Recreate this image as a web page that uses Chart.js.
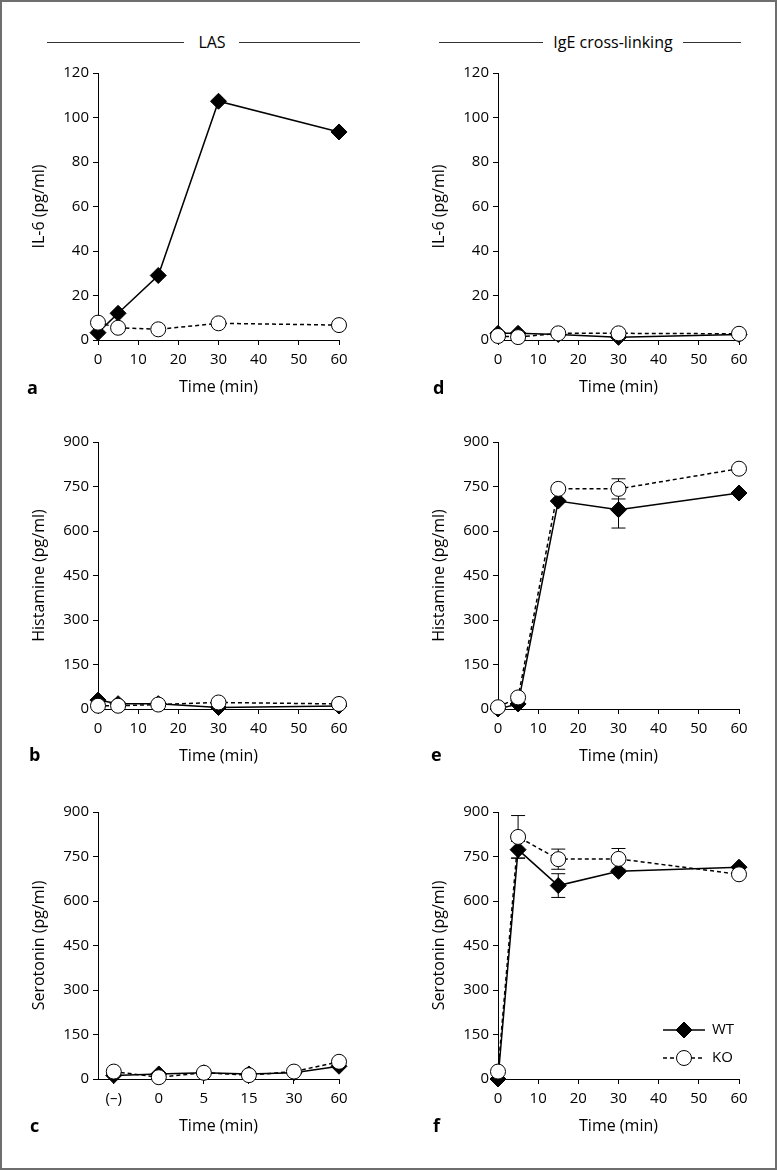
<!DOCTYPE html>
<html>
<head>
<meta charset="utf-8">
<script src="https://cdn.jsdelivr.net/npm/chart.js@4.4.1/dist/chart.umd.min.js"></script>
<style>
  body { margin: 0; background: #fff; font-family: "Open Sans", sans-serif; }
  #page { position: relative; width: 777px; height: 1170px; overflow: hidden; }
  #frame { position: absolute; left: 0; top: 0; width: 777px; height: 1170px; box-sizing: border-box; border: 2px solid #6e6e6e; }
  canvas { position: absolute; }
  .rule { position: absolute; height: 0; border-top: 1.5px solid #333; }
  .head { position: absolute; font-size: 16px; line-height: 18px; transform: translateX(-50%); white-space: nowrap; }
  .tag { position: absolute; font-size: 18px; font-weight: bold; line-height: 20px; transform: translateY(-50%); }
</style>
</head>
<body>
<div id="page">
  <div id="frame"></div>

  <div class="rule" style="left:47px; top:42px; width:137px"></div>
  <div class="head" style="left:212px; top:33px">LAS</div>
  <div class="rule" style="left:239px; top:42px; width:121px"></div>

  <div class="rule" style="left:439px; top:42px; width:104px"></div>
  <div class="head" style="left:613px; top:33px">IgE cross-linking</div>
  <div class="rule" style="left:683px; top:42px; width:58px"></div>

  <canvas id="chartA" width="388" height="340" style="left:0; top:60px"></canvas>
  <canvas id="chartD" width="388" height="340" style="left:400px; top:60px"></canvas>
  <canvas id="chartB" width="388" height="340" style="left:0; top:429px"></canvas>
  <canvas id="chartE" width="388" height="340" style="left:400px; top:429px"></canvas>
  <canvas id="chartC" width="388" height="340" style="left:0; top:799px"></canvas>
  <canvas id="chartF" width="388" height="340" style="left:400px; top:799px"></canvas>

  <div class="tag" style="left:27px; top:387px">a</div>
  <div class="tag" style="left:433px; top:387px">d</div>
  <div class="tag" style="left:29px; top:754px">b</div>
  <div class="tag" style="left:431px; top:754px">e</div>
  <div class="tag" style="left:30px; top:1125px">c</div>
  <div class="tag" style="left:433px; top:1125px">f</div>
</div>

<script>
// time points (min)
const timeMin = [0, 5, 15, 30, 60]
// panel c uses evenly spaced categories
const serLasPos = [0, 1, 2, 3, 4, 5]
const serLasTicks = ['(–)', '0', '5', '15', '30', '60']

// IL-6 (pg/ml)
const il6LasWT = [3.3, 12, 29, 107.3, 93.5]
const il6LasKO = [7.8, 5.5, 4.8, 7.5, 6.7]
const il6IgeWT = [3, 3, 2.5, 1.2, 2.5]
const il6IgeKO = [1.8, 1.3, 3, 3, 2.8]

// Histamine (pg/ml)
const hisLasWT = [30, 18, 18, 5, 10]
const hisLasKO = [11, 11, 15, 22, 17]
const hisIgeWT = [0, 17, 701, 672, 728]
const hisIgeKO = [6, 39, 742, 742, 810]
const hisIgeErrWT = [0, 0, 0, 62, 0]
const hisIgeErrKO = [0, 0, 0, 34, 0]

// Serotonin (pg/ml)
const serLasWT = [12, 17, 21, 17, 21, 43]
const serLasKO = [25, 6, 21, 13, 25, 58]
const serIgeWT = [0, 773, 652, 700, 714]
const serIgeKO = [25, 816, 741, 742, 690]
const serIgeErrWT = [0, 28, 40, 0, 0]
const serIgeErrKO = [0, 72, 34, 35, 0]

const TICK_FONT = { family: '"Open Sans", sans-serif', size: 15 }
const TITLE_FONT = { family: '"Open Sans", sans-serif', size: 16 }

const errorBars = {
    id: 'errorBars',
    beforeDatasetsDraw(chart) {
        const ctx = chart.ctx
        const yScale = chart.scales.y
        chart.data.datasets.forEach((ds, i) => {
            if (!ds.err) return
            const meta = chart.getDatasetMeta(i)
            meta.data.forEach((pt, j) => {
                const e = ds.err[j]
                if (!e) return
                const v = ds.data[j].y
                const top = yScale.getPixelForValue(v + e)
                const bot = yScale.getPixelForValue(v - e)
                ctx.save()
                ctx.strokeStyle = '#000'
                ctx.lineWidth = 1
                ctx.beginPath()
                ctx.moveTo(pt.x, top); ctx.lineTo(pt.x, bot)
                ctx.moveTo(pt.x - 7, top); ctx.lineTo(pt.x + 7, top)
                ctx.moveTo(pt.x - 7, bot); ctx.lineTo(pt.x + 7, bot)
                ctx.stroke()
                ctx.restore()
            })
        })
    }
}

const lineLegend = {
    id: 'lineLegend',
    afterDraw(chart, args, opts) {
        if (!opts.show) return
        const { ctx, chartArea } = chart
        chart.data.datasets.forEach((ds, i) => {
            const y = chartArea.top + 218 + i * 28
            const x0 = chartArea.right - 76
            const x1 = chartArea.right - 34
            ctx.save()
            ctx.strokeStyle = '#000'
            ctx.lineWidth = 1.5
            ctx.setLineDash(ds.borderDash || [])
            ctx.beginPath(); ctx.moveTo(x0, y); ctx.lineTo(x1, y); ctx.stroke()
            ctx.setLineDash([])
            ctx.fillStyle = ds.pointBackgroundColor
            ctx.lineWidth = 1
            Chart.helpers.drawPoint(ctx, { pointStyle: ds.pointStyle, radius: ds.pointRadius, borderWidth: 1, rotation: 0 }, (x0 + x1) / 2, y)
            ctx.fillStyle = '#000'
            ctx.font = '15px "Open Sans", sans-serif'
            ctx.textBaseline = 'middle'
            ctx.fillText(ds.label, x1 + 7, y)
            ctx.restore()
        })
    }
}

const makePanel = (id, xs, wt, ko, opt) => {
    const toPts = arr => arr.map((v, i) => ({ x: xs[i], y: v }))
    const xTicks = opt.xTicks
    return new Chart(document.getElementById(id).getContext('2d'), {
        type: 'line',
        data: {
            datasets: [
                {
                    label: 'WT', data: toPts(wt), err: opt.errWT,
                    borderColor: '#000', borderWidth: 1.5,
                    pointStyle: 'rectRot', pointRadius: 8,
                    pointBackgroundColor: '#000', pointBorderColor: '#000', pointBorderWidth: 1,
                    order: 1, clip: false
                },
                {
                    label: 'KO', data: toPts(ko), err: opt.errKO,
                    borderColor: '#000', borderWidth: 1.5, borderDash: [4, 3],
                    pointStyle: 'circle', pointRadius: 7.5,
                    pointBackgroundColor: '#fff', pointBorderColor: '#000', pointBorderWidth: 1,
                    order: 0, clip: false
                }
            ]
        },
        options: {
            responsive: false,
            animation: false,
            layout: { padding: { top: 13, right: 49, left: 0, bottom: 0 } },
            plugins: {
                legend: { display: false },
                tooltip: { enabled: false },
                lineLegend: { show: !!opt.legend }
            },
            scales: {
                x: {
                    type: 'linear',
                    min: opt.xMin, max: opt.xMax,
                    afterFit: s => { s.height = 60 },
                    afterBuildTicks: s => { s.ticks = opt.xVals.map(v => ({ value: v })) },
                    grid: { drawOnChartArea: false, drawTicks: true, tickLength: 5, color: '#000' },
                    border: { display: true, color: '#000', width: 1 },
                    ticks: {
                        color: '#000', font: TICK_FONT, padding: 6, maxRotation: 0,
                        callback: v => xTicks ? xTicks[opt.xVals.indexOf(v)] : v
                    },
                    title: { display: true, text: 'Time (min)', color: '#000', font: TITLE_FONT, padding: { top: 0, bottom: 3 } }
                },
                y: {
                    min: 0, max: opt.yMax,
                    afterFit: s => { s.width = 98 },
                    grid: { drawOnChartArea: false, drawTicks: true, tickLength: 5, color: '#000' },
                    border: { display: true, color: '#000', width: 1 },
                    ticks: { color: '#000', font: TICK_FONT, padding: 4, stepSize: opt.yStep },
                    title: { display: true, text: opt.yTitle, color: '#000', font: TITLE_FONT, padding: { top: 30, bottom: 0 } }
                }
            }
        },
        plugins: [errorBars, lineLegend]
    })
}

const tensX = [0, 10, 20, 30, 40, 50, 60]

makePanel('chartA', timeMin, il6LasWT, il6LasKO, { xMin: 0, xMax: 60, xVals: tensX, yMax: 120, yStep: 20, yTitle: 'IL-6 (pg/ml)' })
makePanel('chartD', timeMin, il6IgeWT, il6IgeKO, { xMin: 0, xMax: 60, xVals: tensX, yMax: 120, yStep: 20, yTitle: 'IL-6 (pg/ml)' })
makePanel('chartB', timeMin, hisLasWT, hisLasKO, { xMin: 0, xMax: 60, xVals: tensX, yMax: 900, yStep: 150, yTitle: 'Histamine (pg/ml)' })
makePanel('chartE', timeMin, hisIgeWT, hisIgeKO, { xMin: 0, xMax: 60, xVals: tensX, yMax: 900, yStep: 150, yTitle: 'Histamine (pg/ml)', errWT: hisIgeErrWT, errKO: hisIgeErrKO })
makePanel('chartC', serLasPos, serLasWT, serLasKO, { xMin: -0.35, xMax: 5, xVals: serLasPos, xTicks: serLasTicks, yMax: 900, yStep: 150, yTitle: 'Serotonin (pg/ml)' })
makePanel('chartF', timeMin, serIgeWT, serIgeKO, { xMin: 0, xMax: 60, xVals: tensX, yMax: 900, yStep: 150, yTitle: 'Serotonin (pg/ml)', errWT: serIgeErrWT, errKO: serIgeErrKO, legend: true })
</script>
</body>
</html>
